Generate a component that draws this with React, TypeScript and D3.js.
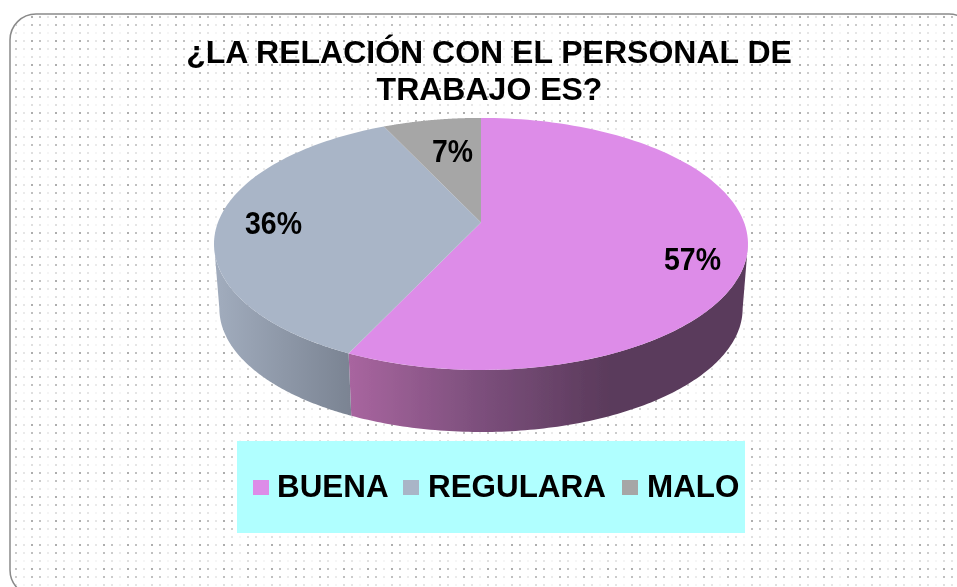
import React from "react";
import * as d3 from "d3";

const categories = ["BUENA", "REGULARA", "MALO"];
const values = [57, 36, 7];
const labels = ["57%", "36%", "7%"];
const topColors = ["#dd8ce8", "#a9b5c7", "#a6a6a6"];
const titleLines = ["¿LA RELACIÓN CON EL PERSONAL DE", "TRABAJO ES?"];
const FONT = "'Liberation Sans', Arial, sans-serif";

// perspective projection of a unit disc, fitted to the picture
const cx = 481, apexY = 222.5, k = 0.17, a = 263.1, b = 122.4;
const project = (t: number, scale = 1, dy = 0): [number, number] => {
  const u = Math.sin(t), v = -Math.cos(t), w = 1 - k * v;
  return [cx + (scale * a * u) / w, apexY + dy + (scale * b * v) / w];
};
const inner: [number, number] = [cx, apexY];
const line = d3.line<[number, number]>().curve(d3.curveLinear);
const arcs = d3.pie<number>().sort(null)(values);
const samples = (t0: number, t1: number) => d3.range(0, 121).map((i) => d3.interpolateNumber(t0, t1)(i / 120));
const silhouetteR = Math.acos(-k);
const silhouetteL = 2 * Math.PI - silhouetteR;
const BOTTOM_SCALE = 0.98, BOTTOM_DY = 65;

const wallPath = (t0: number, t1: number) => {
  const top = samples(t0, t1).map((t) => project(t));
  const bot = samples(t0, t1).reverse().map((t) => project(t, BOTTOM_SCALE, BOTTOM_DY));
  return line([...top, ...bot])! + "Z";
};
const slicePath = (t0: number, t1: number) =>
  line([inner, ...samples(t0, t1).map((t) => project(t))])! + "Z";

const patternCols = [0, 8, 16];
const patternRows = [0, 8, 16];
const colWeight = [0.6, 0.46, 0.18];
const rowWeight = [1, 0.8, 0.4];

export default function App() {
  const boundary = arcs[0].endAngle;
  return (
    <svg width={957} height={587} style={{ position: "fixed", left: 0, top: 0, display: "block" }}>
      <defs>
        <pattern id="dots" x={31} y={16} width={24} height={24} patternUnits="userSpaceOnUse">
          {patternRows.map((ry, i) =>
            patternCols.map((cxx, j) => (
              <rect key={i + "-" + j} x={cxx} y={ry} width={2} height={2} fill="#777" opacity={colWeight[j] * rowWeight[i]} />
            ))
          )}
        </pattern>
        <linearGradient id="wallPink" gradientUnits="userSpaceOnUse" x1={350} x2={610} y1={0} y2={0}>
          <stop offset="0" stopColor="#a8659f" />
          <stop offset="0.5" stopColor="#7c4f7c" />
          <stop offset="1" stopColor="#5a3a5b" />
        </linearGradient>
        <linearGradient id="wallBlue" gradientUnits="userSpaceOnUse" x1={220} x2={352} y1={0} y2={0}>
          <stop offset="0" stopColor="#a0abbc" />
          <stop offset="1" stopColor="#7a8392" />
        </linearGradient>
        <filter id="soft" x="-5%" y="-5%" width="110%" height="110%">
          <feGaussianBlur stdDeviation="0.45" />
        </filter>
      </defs>
      <rect x={10} y={14} width={965} height={582} rx={26} fill="#fff" stroke="#8a8a8a" strokeWidth={1.5} />
      <rect x={11} y={15} width={963} height={580} rx={25} fill="url(#dots)" filter="url(#soft)" />

      <g filter="url(#soft)">
        <path d={wallPath(silhouetteR, boundary)} fill="url(#wallPink)" />
        <path d={wallPath(boundary, silhouetteL)} fill="url(#wallBlue)" />
        {arcs.map((d, i) => (
          <path key={categories[i]} d={slicePath(d.startAngle, d.endAngle)} fill={topColors[i]} />
        ))}
      </g>

      <g fontFamily={FONT} fontWeight="bold" fill="#000" textAnchor="middle" filter="url(#soft)">
        <text x={489} y={62.5} fontSize={32}>{titleLines[0]}</text>
        <text x={489.5} y={100} fontSize={32}>{titleLines[1]}</text>
        <text x={692.5} y={270} fontSize={32} textLength={57} lengthAdjust="spacingAndGlyphs">{labels[0]}</text>
        <text x={273.5} y={234} fontSize={32} textLength={57} lengthAdjust="spacingAndGlyphs">{labels[1]}</text>
        <text x={452.5} y={162} fontSize={32} textLength={41} lengthAdjust="spacingAndGlyphs">{labels[2]}</text>
      </g>

      <rect x={237} y={441} width={508} height={92} fill="#b0ffff" />
      <g fontFamily={FONT} fontWeight="bold" fontSize={31.4} fill="#000" filter="url(#soft)">
        {[253, 403, 622].map((x, i) => (
          <rect key={categories[i]} x={x} y={480} width={16} height={15} fill={topColors[i]} />
        ))}
        {[277, 428, 647].map((x, i) => (
          <text key={categories[i]} x={x} y={497}>{categories[i]}</text>
        ))}
      </g>
    </svg>
  );
}
